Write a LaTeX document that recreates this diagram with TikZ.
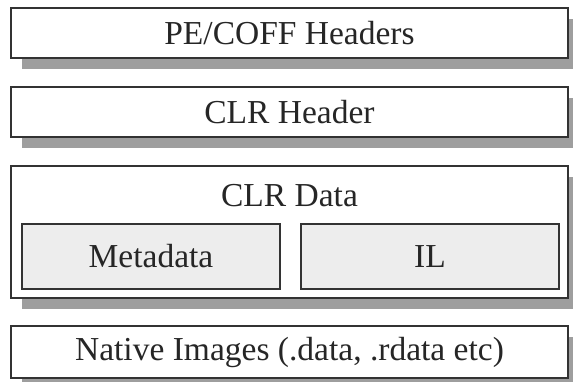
\documentclass[tikz,border=0pt]{standalone}
\usepackage{fontspec}
\setmainfont{Liberation Serif}
\usetikzlibrary{shadows}
\begin{document}
\begin{tikzpicture}[x=1pt,y=-1pt]
\tikzset{
  layer/.style={draw=black!80, line width=1.5pt, fill=white, inner sep=0pt,
    minimum width=557pt, minimum height=50pt,
    drop shadow={shadow xshift=11pt, shadow yshift=-11pt, fill=black!38, opacity=1}},
  part/.style={draw=black!80, line width=1.5pt, fill=black!7, inner sep=0pt,
    minimum width=258pt, minimum height=65pt},
  lbl/.style={font=\fontsize{33.5}{40}\selectfont, text=black!85}
}
\fill[white] (0,0) rectangle (573,381);
\useasboundingbox (0,0) rectangle (573,381);

% file layout, top to bottom
\node[layer, lbl] (pe) at (289.5,33) {PE/COFF Headers};
\node[layer, lbl] (clrh) at (289.5,112) {CLR Header};
\node[layer, minimum height=132pt] (clrd) at (289.5,232) {};
\node[lbl] (clrdt) at (289.5,196) {CLR Data};
\node[part, lbl] (meta) at (151,256.5) {Metadata};
\node[part, lbl] (il) at (430,256.5) {IL};
\node[layer, lbl, minimum height=52pt] (nat) at (289.5,352) {Native Images (.data, .rdata etc)};
\end{tikzpicture}
\end{document}
